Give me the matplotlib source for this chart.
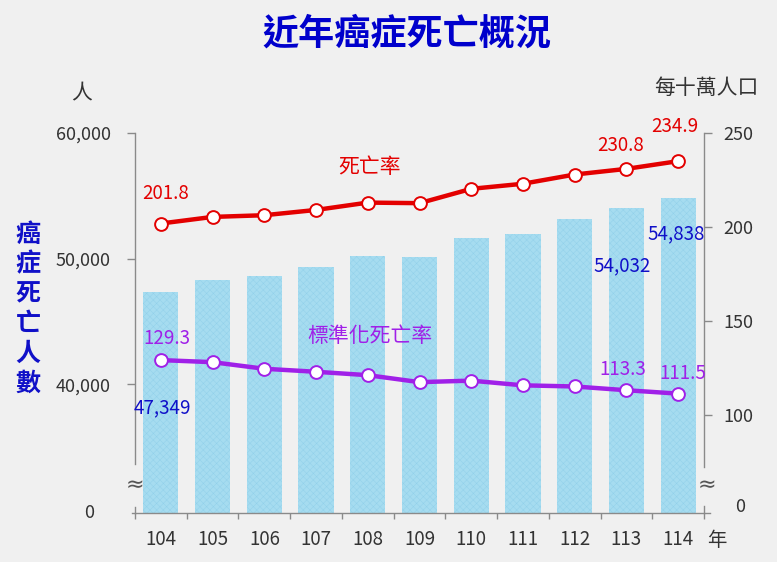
import matplotlib
matplotlib.use("Agg")
import matplotlib.pyplot as plt

plt.rcParams['font.family'] = ['Noto Sans CJK TC', 'DejaVu Sans']
plt.rcParams['hatch.linewidth'] = 0.35

# 資料
years = ['104', '105', '106', '107', '108', '109', '110', '111', '112', '113', '114']
deaths = [47349, 48326, 48577, 49355, 50232, 50161, 51656, 51927, 53126, 54032, 54838]
crude_rate = [201.8, 205.3, 206.2, 209.0, 212.9, 212.6, 220.2, 222.9, 227.8, 230.8, 234.9]
std_rate = [129.3, 128.2, 124.7, 123.1, 121.3, 117.6, 118.4, 115.9, 115.3, 113.3, 111.5]

left_ticks = [40000, 50000, 60000]
right_ticks = [100, 150, 200, 250]

bg = '#f0f0f0'
red = '#e30000'
purple = '#a020e8'
blue = '#1010c8'
gray = '#8a8a8a'
txt = '#333333'

W, H = 777, 562
fig = plt.figure(figsize=(W / 100, H / 100), dpi=100, facecolor=bg)
ax = fig.add_axes([135 / W, 1 - 512.7 / H, 569 / W, 380 / H])
ax.set_facecolor(bg)
ax2 = ax.twinx()

y_low, r_low = 29800, 48.3
ax.set_ylim(y_low, 60000)
ax2.set_ylim(r_low, 250)
ax.set_xlim(-0.5, len(years) - 0.5)

x = list(range(len(years)))

# 長條:死亡人數
ax.bar(x, [d - y_low for d in deaths], bottom=y_low, width=0.68,
       color='#a6dcf0', edgecolor='#92d0ea', linewidth=0, hatch='xxxxx', zorder=2)

# 折線:死亡率與標準化死亡率
ax2.plot(x, crude_rate, color=red, lw=3.2, marker='o', ms=9.2,
         mfc='white', mec=red, mew=1.4, zorder=5)
ax2.plot(x, std_rate, color=purple, lw=3.2, marker='o', ms=9.2,
         mfc='white', mec=purple, mew=1.4, zorder=5)

# 軸線與刻度
for a in (ax, ax2):
    a.spines['top'].set_visible(False)
    for s in ('left', 'right', 'bottom'):
        a.spines[s].set_color(gray)
        a.spines[s].set_linewidth(1.0)
ax.spines['right'].set_visible(False)
ax2.spines['left'].set_visible(False)
ax2.spines['bottom'].set_visible(False)
ax.spines['left'].set_bounds(33700, 60000)
ax2.spines['right'].set_bounds(72.6, 250)
ax.spines['bottom'].set_bounds(-0.56, len(years) - 0.38)

# 斷軸的小段
ax.plot([0, 0], [y_low, 30250], transform=ax.get_yaxis_transform(),
        color=gray, lw=1.0, clip_on=False)
ax2.plot([1, 1], [r_low, 51.6], transform=ax2.get_yaxis_transform(),
         color=gray, lw=1.0, clip_on=False)
ax.text(0, 32000, '≈', transform=ax.get_yaxis_transform(), ha='center', va='center',
        fontsize=16, color='#555555', family='DejaVu Sans')
ax2.text(1.005, 63.0, '≈', transform=ax2.get_yaxis_transform(), ha='center', va='center',
         fontsize=16, color='#555555', family='DejaVu Sans')

ax.set_yticks(left_ticks)
ax.set_yticklabels([f'{v:,}' for v in left_ticks])
ax.tick_params(axis='y', direction='out', length=5.5, width=1, color=gray,
               labelsize=13, labelcolor=txt, pad=12)
ax2.set_yticks(right_ticks)
ax2.set_yticklabels([str(v) for v in right_ticks])
ax2.tick_params(axis='y', direction='out', length=6, width=1, color=gray,
                labelsize=13, labelcolor=txt, pad=8)

ax.set_xticks([i - 0.5 for i in range(len(years) + 1)])
ax.set_xticklabels([])
ax.set_xticks(x, minor=True)
ax.set_xticklabels(years, minor=True)
ax.tick_params(axis='x', which='major', direction='out', length=4, width=1, color=gray)
ax.tick_params(axis='x', which='minor', length=0, labelsize=13.5, labelcolor=txt, pad=12)

ax.set_zorder(1)
ax2.set_zorder(2)
ax2.patch.set_visible(False)

# 數值標籤
def label(a, i, y, s, dx, dy, color):
    a.annotate(s, xy=(i, y), xytext=(dx, dy), textcoords='offset pixels',
               ha='center', va='center', fontsize=13.5, color=color, zorder=6)

label(ax2, 0, crude_rate[0], f'{crude_rate[0]:.1f}', 5, 30, red)
label(ax2, 9, crude_rate[9], f'{crude_rate[9]:.1f}', -6, 23, red)
label(ax2, 10, crude_rate[10], f'{crude_rate[10]:.1f}', -3, 35, red)
label(ax2, 0, std_rate[0], f'{std_rate[0]:.1f}', 6, 22, purple)
label(ax2, 9, std_rate[9], f'{std_rate[9]:.1f}', -4, 21, purple)
label(ax2, 10, std_rate[10], f'{std_rate[10]:.1f}', 5, 20, purple)
label(ax, 0, deaths[0], f'{deaths[0]:,}', 2, -116, blue)
label(ax, 9, deaths[9], f'{deaths[9]:,}', -4, -58, blue)
label(ax, 10, deaths[10], f'{deaths[10]:,}', -2, -36, blue)

ax2.annotate('死亡率', xy=(4, crude_rate[4]), xytext=(2, 36), textcoords='offset pixels',
             ha='center', va='center', fontsize=15, color=red)
ax2.annotate('標準化死亡率', xy=(4, std_rate[4]), xytext=(2, 39), textcoords='offset pixels',
             ha='center', va='center', fontsize=15, color=purple)

# 標題與單位
fig.text(407 / W, 1 - 34 / H, '近年癌症死亡概況', ha='center', va='center',
         fontsize=26, fontweight='bold', color='#0000cc')
fig.text(28 / W, 1 - 309 / H, '\n'.join('癌症死亡人數'), ha='center', va='center',
         fontsize=18, fontweight='bold', color=blue, linespacing=1.3)
fig.text(82 / W, 1 - 93 / H, '人', ha='center', va='center', fontsize=15, color=txt)
fig.text(706 / W, 1 - 88 / H, '每十萬人口', ha='center', va='center', fontsize=15, color=txt)
fig.text(717 / W, 1 - 540 / H, '年', ha='center', va='center', fontsize=14, color=txt)
fig.text(89 / W, 1 - 513 / H, '0', ha='center', va='center', fontsize=13, color=txt)
fig.text(740 / W, 1 - 507 / H, '0', ha='center', va='center', fontsize=13, color=txt)

fig.savefig('out.png', dpi=100, facecolor=bg)
